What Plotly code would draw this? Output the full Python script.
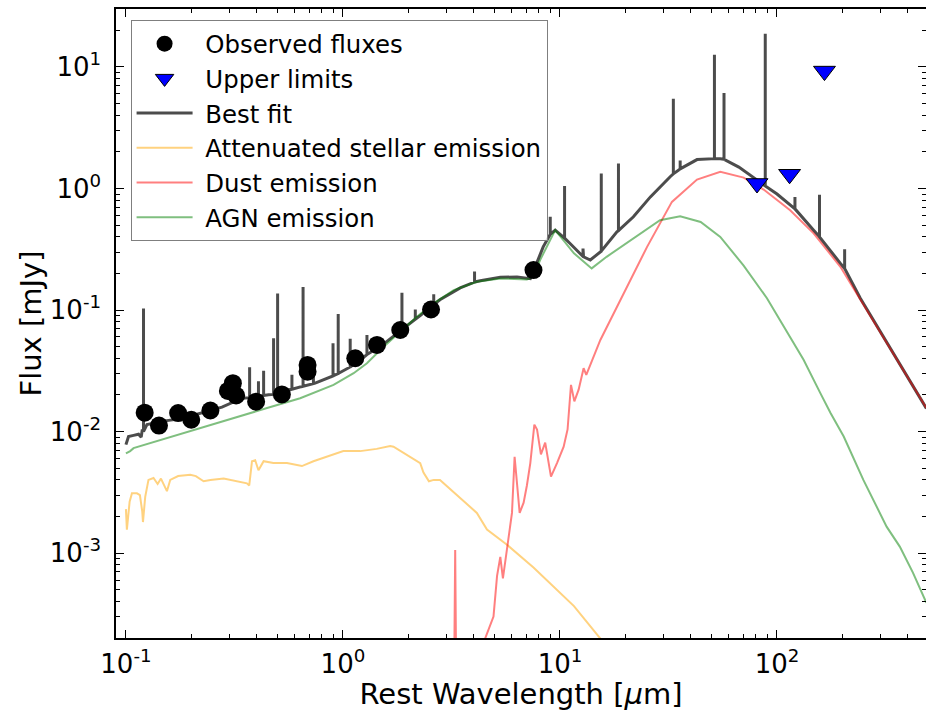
import math
import plotly.graph_objects as go

# ---------------- data ----------------
obs_wl = [0.122, 0.142, 0.174, 0.200, 0.245, 0.295, 0.311, 0.322, 0.398, 0.523,
          0.687, 0.687, 1.14, 1.435, 1.837, 2.546, 7.55]
obs_flux = [0.0143, 0.0112, 0.0142, 0.0125, 0.0149, 0.0216, 0.0250, 0.0198, 0.0176, 0.0202,
            0.0353, 0.0311, 0.0401, 0.0516, 0.0685, 0.101, 0.213]

ul_wl = [80.9, 114.3, 165.5]
ul_flux = [1.10, 1.31, 9.25]

# best-fit continuum
bf_wl = [0.100, 0.1028, 0.1084, 0.1143, 0.1176, 0.1190, 0.125, 0.1545, 0.181, 0.224,
         0.277, 0.343, 0.380, 0.454, 0.561, 0.745, 0.874, 1.08, 1.27, 1.485,
         1.837, 2.27, 2.81, 3.47, 4.29, 5.31, 6.34, 7.30, 7.60, 8.37,
         9.51, 11.13, 12.84, 13.8, 15.35, 18.3, 21.8, 26.1, 32.2, 42.8,
         54.8, 66.7, 76.7, 88.0, 100.0, 118.0, 147.5, 196.0, 242.0, 488.0]
bf_flux = [0.0078, 0.0091, 0.0093, 0.0095, 0.0090, 0.0104, 0.0114, 0.0123, 0.0128, 0.0142,
           0.0159, 0.0188, 0.0195, 0.0201, 0.0221, 0.0250, 0.0280, 0.034, 0.042, 0.050,
           0.067, 0.090, 0.122, 0.152, 0.174, 0.186, 0.187, 0.181, 0.215, 0.331,
           0.454, 0.353, 0.274, 0.258, 0.302, 0.44, 0.585, 0.853, 1.25, 1.73,
           1.76, 1.50, 1.26, 1.05, 0.90, 0.70, 0.454, 0.242, 0.125, 0.0155]

# emission lines in the best fit: wavelength, continuum level at the line, peak
line_wl = [0.1205, 0.3715, 0.408, 0.431, 0.479, 0.500, 0.582, 0.655, 0.731, 0.900,
           0.951, 1.08, 1.29, 1.87, 2.155, 2.62, 4.04, 9.02, 10.5, 12.77,
           15.5, 18.6, 33.3, 35.8, 51.5, 57.0, 88.3, 121.0, 157.0, 205.0]
line_base = [0.0100, 0.0190, 0.0196, 0.0198, 0.0202, 0.0206, 0.0223, 0.0236, 0.0248, 0.0287,
             0.0300, 0.034, 0.043, 0.069, 0.084, 0.111, 0.170, 0.42, 0.39, 0.276,
             0.305, 0.45, 1.32, 1.45, 1.76, 1.74, 1.05, 0.68, 0.40, 0.22]
line_peak = [0.1027, 0.0338, 0.0259, 0.0316, 0.0585, 0.137, 0.0294, 0.155, 0.0293, 0.0533,
             0.0926, 0.058, 0.0624, 0.139, 0.101, 0.135, 0.207, 0.585, 1.05, 0.321,
             1.33, 1.605, 5.49, 1.70, 12.6, 6.1, 18.8, 0.853, 0.89, 0.316]

stellar_wl = [0.100, 0.101, 0.104, 0.1066, 0.1124, 0.116, 0.1189, 0.1198, 0.1227, 0.127,
              0.134, 0.140, 0.145, 0.1545, 0.160, 0.174, 0.198, 0.210, 0.228, 0.245,
              0.282, 0.361, 0.370, 0.381, 0.394, 0.408, 0.431, 0.478, 0.552, 0.647,
              0.731, 0.844, 1.004, 1.20, 1.43, 1.65, 1.71, 2.27, 2.35, 2.49,
              2.62, 2.80, 3.47, 4.14, 4.61, 5.70, 7.55, 9.99, 11.6, 14.8, 16.5]
stellar_flux = [2.3e-3, 1.56e-3, 2.65e-3, 3.1e-3, 3.1e-3, 3.0e-3, 2.2e-3, 1.8e-3, 2.9e-3, 4.0e-3,
                4.15e-3, 3.7e-3, 4.1e-3, 3.23e-3, 4.0e-3, 4.3e-3, 4.4e-3, 4.3e-3, 3.9e-3, 4.0e-3,
                4.1e-3, 3.75e-3, 3.6e-3, 5.7e-3, 5.8e-3, 4.8e-3, 5.7e-3, 5.5e-3, 5.5e-3, 5.2e-3,
                5.7e-3, 6.2e-3, 6.9e-3, 6.9e-3, 7.2e-3, 7.6e-3, 7.5e-3, 5.5e-3, 4.6e-3, 3.9e-3,
                4.0e-3, 4.0e-3, 2.85e-3, 2.14e-3, 1.56e-3, 1.17e-3, 7.6e-4, 4.7e-4, 3.66e-4, 2.14e-4, 1.7e-4]

dust_wl = [3.00, 3.22, 3.29, 3.36, 3.60, 4.20, 4.53, 4.94, 5.13, 5.31,
           5.46, 5.70, 6.01, 6.18, 6.52, 6.80, 7.04, 7.30, 7.62, 7.84,
           8.17, 8.55, 9.09, 9.69, 10.4, 10.84, 11.24, 11.65, 12.19, 12.85,
           13.22, 15.35, 18.97, 25.2, 32.8, 42.8, 54.8, 70.2, 86.8, 115.0,
           147.5, 196.0, 242.0, 488.0]
dust_flux = [1e-6, 1e-5, 1.06e-3, 1e-5, 1e-6, 8e-5, 2.0e-4, 3.0e-4, 6.5e-4, 9.3e-4,
             6.2e-4, 1.13e-3, 2.14e-3, 6.2e-3, 2.14e-3, 2.6e-3, 3.6e-3, 5.5e-3, 0.0114, 0.0104,
             0.0065, 0.0081, 0.00426, 0.0055, 0.0075, 0.0104, 0.0242, 0.0177, 0.0221, 0.0332,
             0.0293, 0.0567, 0.121, 0.331, 0.776, 1.185, 1.37, 1.23, 0.98, 0.663,
             0.427, 0.227, 0.122, 0.0156]

agn_wl = [0.100, 0.1046, 0.1084, 0.129, 0.1545, 0.220, 0.314, 0.447, 0.635, 0.905,
          1.12, 1.29, 1.54, 1.84, 2.19, 2.62, 3.24, 4.14, 5.31, 7.04,
          7.55, 8.10, 9.51, 11.6, 14.0, 16.4, 19.6, 23.3, 28.9, 35.8,
          44.5, 54.8, 70.2, 89.9, 111.5, 132.6, 158.6, 176.5, 203.0, 250.0,
          320.0, 368.0, 423.0, 488.0]
agn_flux = [6.6e-3, 6.9e-3, 7.3e-3, 8.0e-3, 8.9e-3, 0.0107, 0.0129, 0.0156, 0.0188, 0.0242,
            0.0302, 0.0365, 0.0499, 0.066, 0.0879, 0.1133, 0.146, 0.171, 0.182, 0.178,
            0.19, 0.258, 0.454, 0.293, 0.22, 0.274, 0.342, 0.427, 0.549, 0.592,
            0.53, 0.40, 0.232, 0.125, 0.0645, 0.0389, 0.0206, 0.0142, 0.0091, 0.0040,
            1.65e-3, 1.13e-3, 6.9e-4, 3.9e-4]

x_tickvals = [0.1, 1, 10, 100]
x_ticktext = ["10<sup>-1</sup>", "10<sup>0</sup>", "10<sup>1</sup>", "10<sup>2</sup>"]
y_tickvals = [1e-3, 1e-2, 1e-1, 1, 10]
y_ticktext = ["10<sup>-3</sup>", "10<sup>-2</sup>", "10<sup>-1</sup>", "10<sup>0</sup>", "10<sup>1</sup>"]

x_range = (0.09, 486.0)
y_range = (2e-4, 30.0)

# ---------------- build the best-fit spectrum with its line spikes ----------------
pts = list(zip(bf_wl, bf_flux))
for w, b, p in zip(line_wl, line_base, line_peak):
    pts += [(w, b), (w, p), (w, b)]
pts = sorted(pts, key=lambda t: t[0])
spec_x = [t[0] for t in pts]
spec_y = [t[1] for t in pts]

minor_x = [k * 10.0 ** d for d in range(-2, 3) for k in range(2, 10)]
minor_y = [k * 10.0 ** d for d in range(-4, 2) for k in range(2, 10)]

FONT = "DejaVu Sans"
NB = "\u00a0"

fig = go.Figure()
fig.add_trace(go.Scatter(x=spec_x, y=spec_y, mode="lines", name=NB + "Best fit",
                         line=dict(color="rgba(0,0,0,0.7)", width=3), legendrank=3))
fig.add_trace(go.Scatter(x=stellar_wl, y=stellar_flux, mode="lines",
                         name=NB + "Attenuated stellar emission",
                         line=dict(color="rgba(255,165,0,0.5)", width=2), legendrank=4))
fig.add_trace(go.Scatter(x=dust_wl, y=dust_flux, mode="lines", name=NB + "Dust emission",
                         line=dict(color="rgba(255,0,0,0.5)", width=2), legendrank=5))
fig.add_trace(go.Scatter(x=agn_wl, y=agn_flux, mode="lines", name=NB + "AGN emission",
                         line=dict(color="rgba(0,128,0,0.5)", width=2), legendrank=6))
fig.add_trace(go.Scatter(x=obs_wl, y=obs_flux, mode="markers", name=NB + "Observed fluxes",
                         marker=dict(symbol="circle", size=18, color="black", line=dict(width=0)),
                         legendrank=1))
fig.add_trace(go.Scatter(x=ul_wl, y=ul_flux, mode="markers", name=NB + "Upper limits",
                         marker=dict(symbol="triangle-down", size=19, color="blue",
                                     line=dict(color="black", width=1)),
                         legendrank=2))

axis_common = dict(
    type="log", showline=True, linecolor="black", linewidth=1.5, mirror="allticks",
    ticks="inside", ticklen=8, tickwidth=1, tickcolor="black", showgrid=False, zeroline=False,
    tickfont=dict(family=FONT, size=26, color="black"), tickmode="array", automargin=False,
)

fig.update_xaxes(**axis_common,
                 range=[math.log10(x_range[0]), math.log10(x_range[1])],
                 tickvals=x_tickvals, ticktext=x_ticktext, ticklabelstandoff=2,
                 minor=dict(ticks="inside", ticklen=4, tickwidth=1, tickcolor="black",
                            tickmode="array", tickvals=minor_x, showgrid=False),
                 title=dict(text="Rest Wavelength [<i>μ</i>m]", standoff=0,
                            font=dict(family=FONT, size=29, color="black")))
fig.update_yaxes(**axis_common,
                 range=[math.log10(y_range[0]), math.log10(y_range[1])],
                 tickvals=y_tickvals, ticktext=y_ticktext, ticklabelstandoff=8,
                 minor=dict(ticks="inside", ticklen=4, tickwidth=1, tickcolor="black",
                            tickmode="array", tickvals=minor_y, showgrid=False),
                 title=dict(text="Flux [mJy]", standoff=0,
                            font=dict(family=FONT, size=29, color="black")))

fig.update_layout(
    width=926, height=711,
    margin=dict(l=116, r=0, t=9, b=73),
    paper_bgcolor="white", plot_bgcolor="white",
    font=dict(family=FONT, size=24, color="black"),
    showlegend=True,
    legend=dict(x=0.018, y=0.982, xanchor="left", yanchor="top",
                bgcolor="rgba(255,255,255,0.8)", bordercolor="#7f7f7f", borderwidth=1,
                font=dict(family=FONT, size=24.4, color="black"), itemwidth=56,
                traceorder="normal"),
)

fig.write_html("out.html", config={"displayModeBar": False},
               post_script="document.body.style.margin='0px';")
